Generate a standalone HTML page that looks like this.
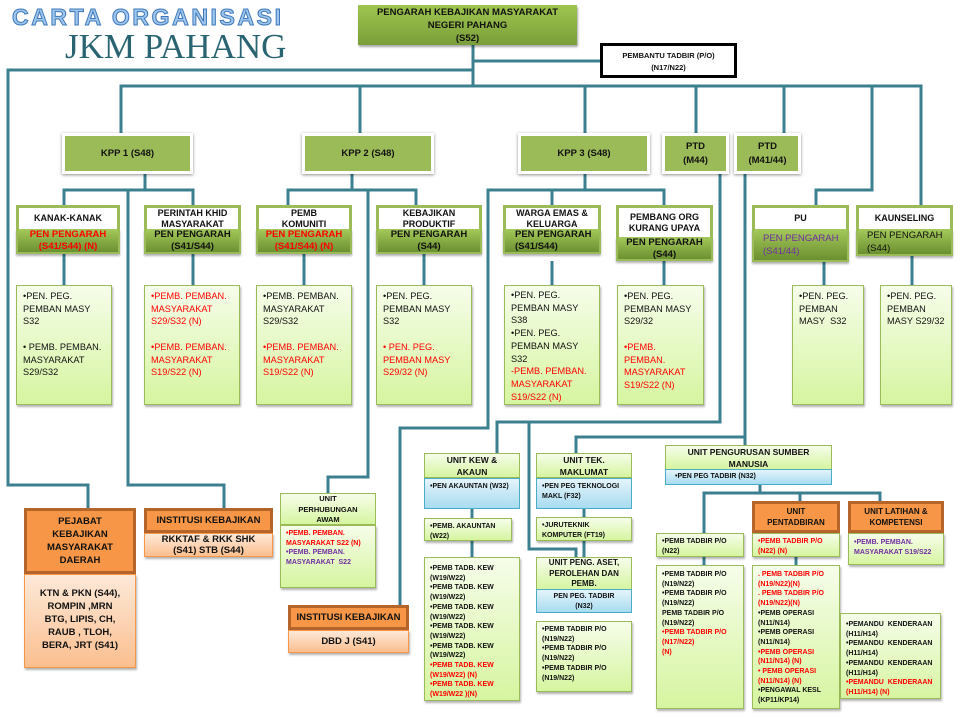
<!DOCTYPE html>
<html><head><meta charset="utf-8"><style>
body{margin:0;width:960px;height:717px;background:#fff;position:relative;overflow:hidden;font-family:"Liberation Sans",sans-serif;color:#111}
.a{position:absolute;box-sizing:border-box}
.kpp{background:#9bbb59;border:3px solid #fff;box-shadow:0 1px 3px rgba(0,0,0,.45);font-weight:bold;font-size:9.5px;display:flex;align-items:center;justify-content:center;text-align:center;line-height:14px}
.hd{background:#fff;border:3px solid #9bbb59;border-bottom:none;font-weight:bold;font-size:9px;text-align:center;line-height:11px;display:flex;align-items:center;justify-content:center}
.gb{background:linear-gradient(#a4c95a,#6b9030);border:2px solid #9bbb59;border-top:none;font-weight:bold;font-size:9.5px;text-align:center;line-height:14px;box-shadow:0 2px 2px rgba(0,0,0,.3)}
.lst{background:linear-gradient(#f6fdea,#d6f5a0);border:1.5px solid #9bbb59;box-shadow:1px 2px 2px rgba(0,0,0,.3);font-size:9.2px;line-height:12.7px;padding:4px 6px}
.sm{font-size:7px;font-weight:bold;line-height:9.7px;padding:3px 5px}
.r{color:#f00}.p{color:#7030a0}
.gh{background:linear-gradient(#f6fdea,#d6f5a0);border:1.5px solid #9bbb59;font-weight:bold;font-size:8.5px;text-align:center;line-height:11px}
.bl{background:linear-gradient(#e4f4fb,#a8dcf0);border:1.5px solid #4bacc6;font-size:7px;font-weight:bold;line-height:9.7px;padding:3px 5px}
.oh{background:#f79646;border:3px solid #b5652a;font-weight:bold;font-size:9.5px;text-align:center;line-height:13px;display:flex;align-items:center;justify-content:center}
.ob{background:linear-gradient(#fde9d9,#fbbf8f);border:1.5px solid #f79646;font-weight:bold;font-size:9.5px;text-align:center;line-height:13px;box-shadow:1px 2px 2px rgba(0,0,0,.3)}
</style></head><body>
<svg class="a" style="left:0;top:0" width="960" height="717"><g fill="none" stroke="#3c8090" stroke-width="3">
<path d="M473 44V86M473 61H600M473 70H8V485H88V508"/>
<path d="M121 133V86H921V205M360 86V133M585 86V133M696 86V133M784 86V133M872 86V190H816V205"/>
<path d="M145 174V190M64 205V190H193V205M128 190V485H224V508"/>
<path d="M352 174V190M288 205V190H416V205M368 190V477H328V493"/>
<path d="M585 174V190M664 205V190H488V428H400V605M552 190V205"/>
<path d="M720 174V422H497V453M529 422V549H576V557"/>
<path d="M745 174V445M745 437H576V453"/>
<path d="M64 254V285M193 254V285M304 254V285M424 254V285M552 261V285M664 261V285M824 262V285M912 256V285"/>
<path d="M472 509V557M584 509V557M760 485V493H704V533M704 493H880V501M800 493V501M704 557V565M796 557V565"/>
</g></svg>
<div class="a" style="left:12px;top:4px;font-size:23px;font-weight:bold;letter-spacing:2.6px;color:#9ec6ee;-webkit-text-stroke:1px #3e78b8;white-space:nowrap">CARTA ORGANISASI</div>
<div class="a" style="left:65px;top:27px;font-family:'Liberation Serif',serif;font-size:35px;color:#2a6472;white-space:nowrap">JKM PAHANG</div>
<div class="a" style="left:358px;top:5px;width:219px;height:40px;background:linear-gradient(#9fc64f,#7a9e3a);box-shadow:1px 2px 2px rgba(0,0,0,.35);font-size:9.5px;font-weight:bold;text-align:center;line-height:13px;padding-top:1px">PENGARAH KEBAJIKAN MASYARAKAT<br>NEGERI PAHANG<br>(S52)</div>
<div class="a" style="left:600px;top:43px;width:137px;height:35px;border:3px solid #000;background:#fff;font-size:7.5px;font-weight:bold;text-align:center;line-height:12px;padding-top:4px">PEMBANTU TADBIR (P/O)<br>(N17/N22)</div>
<div class="a kpp" style="left:62px;top:133px;width:131px;height:41px">KPP 1 (S48)</div>
<div class="a kpp" style="left:302px;top:133px;width:132px;height:41px">KPP 2 (S48)</div>
<div class="a kpp" style="left:518px;top:133px;width:132px;height:41px">KPP 3 (S48)</div>
<div class="a kpp" style="left:662px;top:133px;width:67px;height:41px">PTD<br>(M44)</div>
<div class="a kpp" style="left:734px;top:133px;width:67px;height:41px">PTD<br>(M41/44)</div>

<div class="a hd" style="left:16px;top:205px;width:104px;height:24px">KANAK-KANAK</div>
<div class="a gb r" style="left:16px;top:229px;width:104px;height:25px;line-height:12px">PEN PENGARAH<br>(S41/S44) (N)</div>
<div class="a hd" style="left:144px;top:205px;width:97px;height:24px">PERINTAH KHID<br>MASYARAKAT</div>
<div class="a gb" style="left:144px;top:229px;width:97px;height:25px;line-height:12px">PEN PENGARAH<br>(S41/S44)</div>
<div class="a hd" style="left:256px;top:205px;width:96px;height:24px">PEMB<br>KOMUNITI</div>
<div class="a gb r" style="left:256px;top:229px;width:96px;height:25px;line-height:12px">PEN PENGARAH<br>(S41/S44) (N)</div>
<div class="a hd" style="left:376px;top:205px;width:106px;height:24px">KEBAJIKAN<br>PRODUKTIF</div>
<div class="a gb" style="left:376px;top:229px;width:106px;height:25px;line-height:12px">PEN PENGARAH<br>(S44)</div>
<div class="a hd" style="left:503px;top:205px;width:98px;height:24px">WARGA EMAS &amp;<br>KELUARGA</div>
<div class="a gb" style="left:503px;top:229px;width:98px;height:25px;line-height:12px;text-align:left;padding-left:10px">PEN PENGARAH<br>(S41/S44)</div>
<div class="a hd" style="left:616px;top:205px;width:97px;height:32px">PEMBANG ORG<br>KURANG UPAYA</div>
<div class="a gb" style="left:616px;top:237px;width:97px;height:24px;line-height:12px">PEN PENGARAH<br>(S44)</div>
<div class="a hd" style="left:752px;top:205px;width:97px;height:24px">PU</div>
<div class="a gb p" style="left:752px;top:229px;width:97px;height:33px;line-height:13px;text-align:left;padding:3px 0 0 9px;font-weight:normal">PEN PENGARAH<br>(S41/44)</div>
<div class="a hd" style="left:856px;top:205px;width:97px;height:24px">KAUNSELING</div>
<div class="a gb" style="left:856px;top:229px;width:97px;height:27px;line-height:13px;text-align:left;padding-left:9px;font-weight:normal">PEN PENGARAH<br>(S44)</div>

<div class="a lst" style="left:16px;top:285px;width:96px;height:120px">•PEN. PEG. PEMBAN MASY S32<br><br>• PEMB. PEMBAN. MASYARAKAT S29/S32</div>
<div class="a lst r" style="left:144px;top:285px;width:96px;height:120px">•PEMB. PEMBAN. MASYARAKAT S29/S32 (N)<br><br>•PEMB. PEMBAN. MASYARAKAT S19/S22 (N)</div>
<div class="a lst" style="left:256px;top:285px;width:96px;height:120px">•PEMB. PEMBAN. MASYARAKAT S29/S32<br><br><span class="r">•PEMB. PEMBAN. MASYARAKAT S19/S22 (N)</span></div>
<div class="a lst" style="left:376px;top:285px;width:96px;height:120px">•PEN. PEG. PEMBAN MASY S32<br><br><span class="r">• PEN. PEG. PEMBAN MASY S29/32 (N)</span></div>
<div class="a lst" style="left:504px;top:285px;width:96px;height:120px;padding-right:3px;padding-top:3px">•PEN. PEG. PEMBAN MASY S38<br>•PEN. PEG. PEMBAN MASY S32<br><span class="r">-PEMB. PEMBAN. MASYARAKAT S19/S22 (N)</span></div>
<div class="a lst" style="left:617px;top:285px;width:87px;height:120px">•PEN. PEG. PEMBAN MASY S29/32<br><br><span class="r">•PEMB. PEMBAN. MASYARAKAT S19/S22 (N)</span></div>
<div class="a lst" style="left:792px;top:285px;width:72px;height:120px">•PEN. PEG. PEMBAN MASY&nbsp; S32</div>
<div class="a lst" style="left:880px;top:285px;width:72px;height:120px">•PEN. PEG. PEMBAN MASY S29/32</div>

<div class="a oh" style="left:24px;top:508px;width:112px;height:66px">PEJABAT<br>KEBAJIKAN<br>MASYARAKAT<br>DAERAH</div>
<div class="a ob" style="left:24px;top:574px;width:112px;height:94px;padding-top:12px">KTN &amp; PKN (S44),<br>ROMPIN ,MRN<br>BTG, LIPIS, CH,<br>RAUB , TLOH,<br>BERA, JRT (S41)</div>
<div class="a oh" style="left:144px;top:508px;width:129px;height:25px">INSTITUSI KEBAJIKAN</div>
<div class="a ob" style="left:144px;top:533px;width:129px;height:24px;line-height:11px">RKKTAF &amp; RKK SHK<br>(S41) STB (S44)</div>
<div class="a gh" style="left:280px;top:493px;width:96px;height:32px;font-size:7.5px;line-height:10.5px">UNIT<br>PERHUBUNGAN<br>AWAM</div>
<div class="a lst sm" style="left:280px;top:525px;width:96px;height:63px"><span class="r">•PEMB. PEMBAN. MASYARAKAT S22 (N)</span><br><span class="p">•PEMB. PEMBAN. MASYARAKAT&nbsp; S22</span></div>
<div class="a oh" style="left:288px;top:605px;width:121px;height:25px">INSTITUSI KEBAJIKAN</div>
<div class="a ob" style="left:288px;top:630px;width:121px;height:23px;padding-top:4px">DBD J (S41)</div>

<div class="a gh" style="left:424px;top:453px;width:96px;height:25px;line-height:12px">UNIT KEW &amp;<br>AKAUN</div>
<div class="a bl" style="left:424px;top:478px;width:96px;height:31px">•PEN AKAUNTAN (W32)</div>
<div class="a lst sm" style="left:424px;top:518px;width:88px;height:23px">•PEMB. AKAUNTAN (W22)</div>
<div class="a lst sm" style="left:424px;top:557px;width:96px;height:144px;padding-top:6px">•PEMB TADB. KEW (W19/W22)<br>•PEMB TADB. KEW (W19/W22)<br>•PEMB TADB. KEW (W19/W22)<br>•PEMB TADB. KEW (W19/W22)<br>•PEMB TADB. KEW (W19/W22)<br><span class="r">•PEMB TADB. KEW (W19/W22) (N)<br>•PEMB TADB. KEW (W19/W22 )(N)</span></div>
<div class="a gh" style="left:536px;top:453px;width:96px;height:25px;line-height:12px">UNIT TEK.<br>MAKLUMAT</div>
<div class="a bl" style="left:536px;top:478px;width:96px;height:31px">•PEN PEG TEKNOLOGI MAKL (F32)</div>
<div class="a lst sm" style="left:536px;top:517px;width:96px;height:24px">•JURUTEKNIK KOMPUTER (FT19)</div>
<div class="a gh" style="left:536px;top:557px;width:96px;height:33px;line-height:10.5px;font-size:8px">UNIT PENG. ASET,<br>PEROLEHAN DAN<br>PEMB.</div>
<div class="a bl" style="left:536px;top:589px;width:96px;height:24px;text-align:center;padding-top:2px">PEN PEG. TADBIR<br>(N32)</div>
<div class="a lst sm" style="left:536px;top:621px;width:96px;height:71px">•PEMB TADBIR P/O (N19/N22)<br>•PEMB TADBIR P/O (N19/N22)<br>•PEMB TADBIR P/O (N19/N22)</div>

<div class="a gh" style="left:665px;top:445px;width:167px;height:25px;line-height:12px">UNIT PENGURUSAN SUMBER<br>MANUSIA</div>
<div class="a bl" style="left:665px;top:469px;width:167px;height:16px;padding-top:2px;padding-left:9px">•PEN PEG TADBIR (N32)</div>
<div class="a lst sm" style="left:656px;top:533px;width:88px;height:24px">•PEMB TADBIR P/O (N22)</div>
<div class="a lst sm" style="left:656px;top:565px;width:88px;height:144px;padding-top:4px">•PEMB TADBIR P/O (N19/N22)<br>•PEMB TADBIR P/O (N19/N22)<br>PEMB TADBIR P/O (N19/N22)<br><span class="r">•PEMB TADBIR P/O (N17/N22)<br>(N)</span></div>
<div class="a oh" style="left:752px;top:501px;width:88px;height:32px;font-size:8px;line-height:11px">UNIT<br>PENTADBIRAN</div>
<div class="a lst sm r" style="left:752px;top:533px;width:88px;height:24px">•PEMB TADBIR P/O (N22) (N)</div>
<div class="a lst sm" style="left:752px;top:565px;width:88px;height:144px;padding-top:4px"><span class="r">. PEMB TADBIR P/O (N19/N22)(N)<br>. PEMB TADBIR P/O (N19/N22)(N)</span><br>•PEMB OPERASI (N11/N14)<br>•PEMB OPERASI (N11/N14)<br><span class="r">•PEMB OPERASI (N11/N14) (N)<br>• PEMB OPERASI (N11/N14) (N)</span><br>•PENGAWAL KESL (KP11/KP14)</div>
<div class="a oh" style="left:848px;top:501px;width:96px;height:32px;font-size:8px;line-height:11px">UNIT LATIHAN &amp;<br>KOMPETENSI</div>
<div class="a lst sm p" style="left:848px;top:533px;width:96px;height:32px;padding-top:4px">•PEMB. PEMBAN. MASYARAKAT S19/S22</div>
<div class="a lst sm" style="left:840px;top:613px;width:101px;height:86px;padding-top:6px">•PEMANDU&nbsp; KENDERAAN (H11/H14)<br>•PEMANDU&nbsp; KENDERAAN (H11/H14)<br>•PEMANDU&nbsp; KENDERAAN (H11/H14)<br><span class="r">•PEMANDU&nbsp; KENDERAAN (H11/H14) (N)</span></div>
</body></html>
